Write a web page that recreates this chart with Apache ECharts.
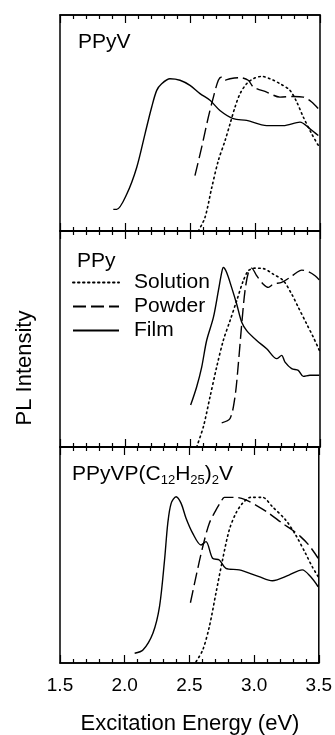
<!DOCTYPE html>
<html>
<head>
<meta charset="utf-8">
<script src="https://cdn.jsdelivr.net/npm/echarts@6/dist/echarts.min.js"></script>
<style>
html,body{margin:0;padding:0;background:#fff;}
#chart{width:335px;height:735px;}
</style>
</head>
<body>
<div id="chart"></div>
<script>
// ---- data (excitation energy eV, normalized PL intensity) ----
var xTicks = ['1.5', '2.0', '2.5', '3.0', '3.5'];
var panelNames = ['PPyV', 'PPy', 'PPyVP(C12H25)2V'];
var seriesNames = ['Solution', 'Powder', 'Film'];

var ppyvSolution = [[2.564,0.0],[2.615,0.062],[2.667,0.2],[2.718,0.326],[2.77,0.419],[2.808,0.496],[2.846,0.573],[2.885,0.636],[2.936,0.682],[2.987,0.705],[3.051,0.716],[3.115,0.705],[3.192,0.682],[3.269,0.651],[3.321,0.597],[3.372,0.527],[3.436,0.45],[3.495,0.388]];
var ppyvPowder = [[2.538,0.256],[2.59,0.388],[2.641,0.527],[2.68,0.62],[2.718,0.698],[2.744,0.713],[2.77,0.698],[2.808,0.705],[2.885,0.71],[2.948,0.698],[2.987,0.667],[3.09,0.643],[3.192,0.62],[3.295,0.623],[3.372,0.62],[3.436,0.597],[3.495,0.561]];
var ppyvFilm = [[1.91,0.10],[1.936,0.10],[2.013,0.17],[2.09,0.294],[2.154,0.45],[2.205,0.573],[2.244,0.651],[2.282,0.682],[2.346,0.705],[2.423,0.698],[2.5,0.674],[2.577,0.636],[2.654,0.605],[2.73,0.558],[2.833,0.52],[2.936,0.512],[3.09,0.488],[3.218,0.488],[3.346,0.504],[3.423,0.473],[3.487,0.442]];

var ppySolution = [[2.551,0.0],[2.603,0.094],[2.654,0.232],[2.705,0.37],[2.756,0.493],[2.808,0.585],[2.859,0.677],[2.91,0.77],[2.949,0.816],[3.0,0.828],[3.064,0.826],[3.141,0.8],[3.218,0.77],[3.282,0.708],[3.333,0.647],[3.397,0.57],[3.449,0.508],[3.495,0.447]];
var ppyPowder = [[2.744,0.112],[2.808,0.132],[2.846,0.232],[2.872,0.386],[2.898,0.57],[2.923,0.723],[2.949,0.808],[2.974,0.828],[3.013,0.793],[3.064,0.754],[3.103,0.739],[3.141,0.754],[3.205,0.762],[3.269,0.785],[3.321,0.808],[3.359,0.819],[3.41,0.812],[3.462,0.793],[3.495,0.773]];
var ppyFilm = [[2.505,0.194],[2.551,0.278],[2.59,0.37],[2.628,0.493],[2.68,0.6],[2.718,0.723],[2.744,0.808],[2.756,0.831],[2.782,0.808],[2.82,0.739],[2.859,0.662],[2.898,0.577],[2.936,0.539],[3.013,0.493],[3.09,0.455],[3.167,0.409],[3.205,0.424],[3.231,0.393],[3.282,0.363],[3.333,0.355],[3.372,0.327],[3.423,0.332],[3.495,0.332]];

var dodSolution = [[2.551,0.006],[2.603,0.06],[2.654,0.168],[2.705,0.323],[2.756,0.477],[2.808,0.616],[2.859,0.693],[2.91,0.739],[2.974,0.767],[3.064,0.767],[3.141,0.724],[3.244,0.662],[3.321,0.593],[3.397,0.508],[3.449,0.446],[3.495,0.4]];
var dodPowder = [[2.508,0.279],[2.551,0.4],[2.603,0.538],[2.654,0.647],[2.705,0.708],[2.744,0.747],[2.77,0.767],[2.808,0.767],[2.859,0.767],[2.936,0.755],[3.013,0.731],[3.115,0.693],[3.218,0.647],[3.295,0.616],[3.359,0.585],[3.423,0.546],[3.495,0.485]];
var dodFilm = [[2.077,0.045],[2.141,0.06],[2.218,0.138],[2.269,0.261],[2.308,0.477],[2.333,0.647],[2.359,0.739],[2.397,0.77],[2.436,0.739],[2.474,0.67],[2.526,0.6],[2.59,0.546],[2.628,0.562],[2.679,0.485],[2.731,0.477],[2.782,0.438],[2.885,0.431],[3.038,0.4],[3.141,0.381],[3.269,0.407],[3.372,0.431],[3.436,0.4],[3.495,0.353]];

// ---- chart ----
var FONT = '"Liberation Sans", Arial, Helvetica, sans-serif';
var panels = [
  [ppyvSolution, ppyvPowder, ppyvFilm],
  [ppySolution, ppyPowder, ppyFilm],
  [dodSolution, dodPowder, dodFilm]
];
var gridTops = [15, 231, 447];
var gridH = 216;
var lineTypes = [[1.5, 3.5], [13, 5], 'solid'];

var grids = [], xAxes = [], yAxes = [], series = [];
gridTops.forEach(function (t, g) {
  grids.push({left: 60, width: 260, top: t, height: gridH, show: true, borderColor: '#000', borderWidth: 1.5, backgroundColor: 'transparent'});
  ['bottom', 'top'].forEach(function (pos) {
    xAxes.push({
      gridIndex: g, type: 'value', min: 1.5, max: 3.5, interval: 0.5, position: pos,
      axisLine: {show: true, onZero: false, lineStyle: {color: '#000', width: 1.5}},
      axisTick: {show: true, inside: true, length: 8, lineStyle: {color: '#000', width: 1.2}},
      minorTick: {show: true, splitNumber: 5, length: 4, lineStyle: {color: '#000', width: 1.2}},
      splitLine: {show: false},
      axisLabel: {
        show: (g === 2 && pos === 'bottom'), margin: 13, color: '#000',
        fontSize: 19, fontFamily: FONT,
        formatter: function (v) { return xTicks[Math.round((v - 1.5) / 0.5)]; }
      }
    });
  });
  yAxes.push({gridIndex: g, type: 'value', min: 0, max: 1, axisLine: {show: false}, axisTick: {show: false}, axisLabel: {show: false}, splitLine: {show: false}});
  panels[g].forEach(function (d, k) {
    series.push({
      name: seriesNames[k], type: 'line', xAxisIndex: g * 2, yAxisIndex: g,
      data: d, symbol: 'none', showSymbol: false, smooth: 0.3,
      lineStyle: {color: '#000', width: k === 0 ? 1.6 : 1.4, type: lineTypes[k], cap: k === 0 ? 'round' : 'butt'},
      itemStyle: {color: '#000'},
      animation: false, silent: true
    });
  });
});

var titleStyle = {fontSize: 21, fontWeight: 'normal', fontFamily: FONT, color: '#000'};
var option = {
  backgroundColor: '#fff',
  animation: false,
  grid: grids, xAxis: xAxes, yAxis: yAxes, series: series,
  title: [
    {text: panelNames[0], left: 78, top: 32, padding: 0, textStyle: titleStyle},
    {text: panelNames[1], left: 77, top: 251, padding: 0, textStyle: titleStyle},
    {text: 'PPyVP(C{s|12}H{s|25}){s|2}V', left: 72, top: 461, padding: 0,
     textStyle: Object.assign({}, titleStyle, {rich: {s: {fontSize: 13, fontFamily: FONT, color: '#000', padding: [13, 0, 0, 0]}}})}
  ],
  legend: {
    data: seriesNames, orient: 'vertical', left: 72, top: 272, padding: 0,
    itemWidth: 46, itemHeight: 14, itemGap: 3, selectedMode: false,
    itemStyle: {opacity: 0},
    textStyle: {fontSize: 21, lineHeight: 21, fontFamily: FONT, color: '#000', padding: [0, 0, 0, 10]}
  },
  graphic: [
    {type: 'text', x: 25, y: 368, rotation: Math.PI / 2,
     style: {text: 'PL Intensity', font: '22px ' + FONT, fill: '#000', textAlign: 'center', textVerticalAlign: 'middle'}},
    {type: 'text', x: 190, y: 724,
     style: {text: 'Excitation Energy (eV)', font: '22px ' + FONT, fill: '#000', textAlign: 'center', textVerticalAlign: 'middle'}}
  ]
};
var chart = echarts.init(document.getElementById('chart'), null, {renderer: 'canvas'});
chart.setOption(option);
</script>
</body>
</html>
